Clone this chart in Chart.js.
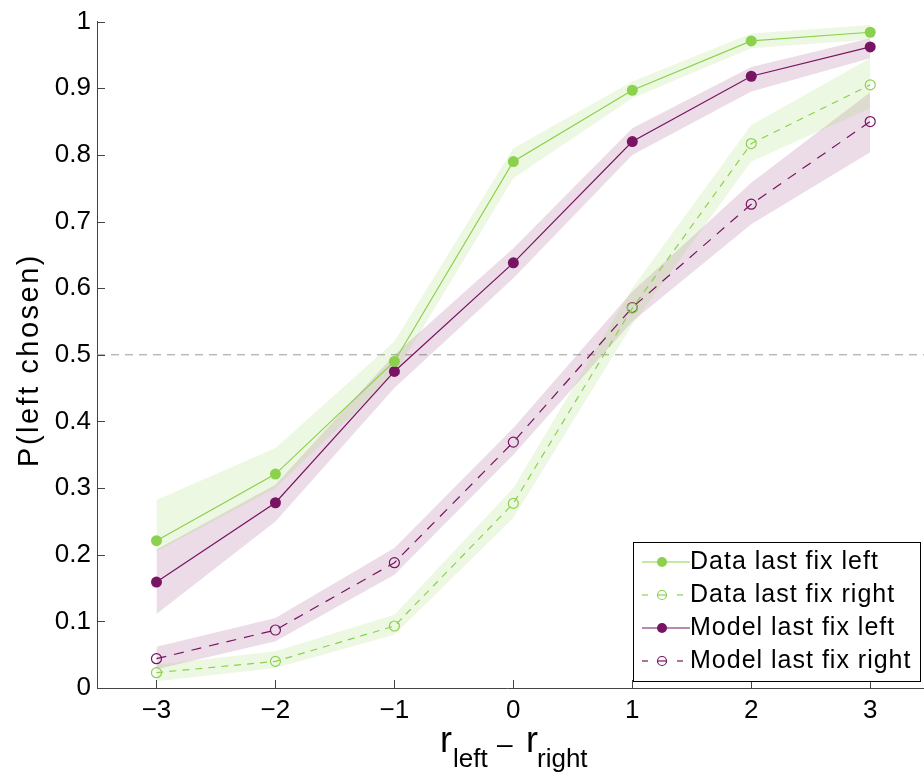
<!DOCTYPE html>
<html>
<head>
<meta charset="utf-8">
<script src="https://cdn.jsdelivr.net/npm/chart.js@4.4.1/dist/chart.umd.min.js"></script>
<style>
  html, body { margin: 0; padding: 0; background: #fff; }
  #wrap { width: 924px; height: 775px; }
</style>
</head>
<body>
<div id="wrap"><canvas id="mycanvas" width="924" height="775"></canvas></div>
<script>
// values
var xs = [-3, -2, -1, 0, 1, 2, 3];
var yTicks = [0, 0.1, 0.2, 0.3, 0.4, 0.5, 0.6, 0.7, 0.8, 0.9, 1];

var dataLeft   = [0.221, 0.321, 0.49, 0.790, 0.897, 0.971, 0.984];
var dataLeftLo = [0.205, 0.300, 0.47, 0.765, 0.885, 0.960, 0.973];
var dataLeftHi = [0.282, 0.360, 0.52, 0.810, 0.910, 0.982, 0.995];

var dataRight   = [0.023, 0.040, 0.093, 0.277, 0.570, 0.817, 0.905];
var dataRightLo = [0.010, 0.030, 0.080, 0.255, 0.545, 0.790, 0.870];
var dataRightHi = [0.035, 0.055, 0.110, 0.300, 0.600, 0.845, 0.945];

var modelLeft   = [0.159, 0.278, 0.475, 0.638, 0.820, 0.918, 0.962];
var modelLeftLo = [0.111, 0.250, 0.450, 0.615, 0.800, 0.895, 0.945];
var modelLeftHi = [0.208, 0.305, 0.500, 0.660, 0.840, 0.932, 0.975];

var modelRight   = [0.044, 0.087, 0.188, 0.369, 0.571, 0.726, 0.850];
var modelRightLo = [0.028, 0.070, 0.170, 0.350, 0.550, 0.696, 0.804];
var modelRightHi = [0.062, 0.105, 0.210, 0.390, 0.595, 0.758, 0.894];

var green = '#8cd14d';
var purple = '#781461';
var greenBand = 'rgba(140, 209, 77, 0.16)';
var purpleBand = 'rgba(120, 20, 97, 0.15)';
var FONT = '"Liberation Sans", Arial, Helvetica, sans-serif';

function pts(arr) {
	return xs.map(function(x, i) { return {x: x, y: arr[i]}; });
}

function band(hi, lo, color) {
	return [
		{ label: '', data: pts(hi), borderWidth: 0, pointRadius: 0, fill: '+1', backgroundColor: color, order: 10 },
		{ label: '', data: pts(lo), borderWidth: 0, pointRadius: 0, fill: false, order: 10 }
	];
}

function series(label, arr, color, dashed) {
	return {
		label: label,
		data: pts(arr),
		borderColor: color,
		borderWidth: 1.2,
		borderDash: dashed ? (color === green ? [7, 6] : [10, 8]) : [],
		pointRadius: dashed ? 5 : 5.5,
		pointBorderWidth: dashed ? 1.2 : 0,
		pointBorderColor: color,
		pointBackgroundColor: dashed ? 'rgba(0,0,0,0)' : color,
		fill: false,
		order: 1,
		isLine: true
	};
}

var datasets = []
	.concat(band(dataLeftHi, dataLeftLo, greenBand))
	.concat(band(dataRightHi, dataRightLo, greenBand))
	.concat(band(modelLeftHi, modelLeftLo, purpleBand))
	.concat(band(modelRightHi, modelRightLo, purpleBand))
	.concat([
		series('Data last fix left', dataLeft, green, false),
		series('Data last fix right', dataRight, green, true),
		series('Model last fix left', modelLeft, purple, false),
		series('Model last fix right', modelRight, purple, true)
	]);

// dashed 0.5 reference line, inward ticks, legend and axis titles
var extras = {
	id: 'extras',
	beforeDatasetsDraw: function(chart) {
		var ctx = chart.ctx, a = chart.chartArea, y = chart.scales.y.getPixelForValue(0.5);
		ctx.save();
		ctx.strokeStyle = '#999';
		ctx.lineWidth = 1;
		ctx.setLineDash([8, 6]);
		ctx.beginPath();
		ctx.moveTo(a.left, y);
		ctx.lineTo(chart.width, y);
		ctx.stroke();
		ctx.restore();
	},
	afterDraw: function(chart) {
		var ctx = chart.ctx, a = chart.chartArea;
		var sx = chart.scales.x, sy = chart.scales.y;
		ctx.save();
		ctx.strokeStyle = '#444';
		ctx.lineWidth = 1;
		// axis runs on to the right edge of the picture
		ctx.beginPath(); ctx.moveTo(a.right - 1, a.bottom + 0.5); ctx.lineTo(chart.width, a.bottom + 0.5); ctx.stroke();
		xs.forEach(function(v) {
			var px = Math.round(sx.getPixelForValue(v)) + 0.5;
			ctx.beginPath(); ctx.moveTo(px, a.bottom); ctx.lineTo(px, a.bottom - 8); ctx.stroke();
		});
		yTicks.forEach(function(v) {
			var py = Math.round(sy.getPixelForValue(v)) + 0.5;
			ctx.beginPath(); ctx.moveTo(a.left, py); ctx.lineTo(a.left + 8, py); ctx.stroke();
		});

		// legend
		var bx = 633, by = 542, bw = 287, bh = 139;
		ctx.fillStyle = '#fff';
		ctx.fillRect(bx, by, bw, bh);
		ctx.strokeStyle = '#000';
		ctx.lineWidth = 1;
		ctx.setLineDash([]);
		ctx.strokeRect(bx + 0.5, by + 0.5, bw, bh);
		var lines = chart.data.datasets.filter(function(d) { return d.isLine; });
		lines.forEach(function(d, i) {
			var cy = 562 + i * 33;
			ctx.strokeStyle = d.borderColor;
			ctx.lineWidth = 1.2;
			if (d.borderDash.length) {
				ctx.beginPath(); ctx.moveTo(642, cy); ctx.lineTo(648, cy); ctx.stroke();
				ctx.beginPath(); ctx.moveTo(677, cy); ctx.lineTo(683, cy); ctx.stroke();
				ctx.beginPath(); ctx.arc(662, cy, 4.5, 0, Math.PI * 2); ctx.stroke();
				ctx.beginPath(); ctx.moveTo(657.5, cy); ctx.lineTo(666.5, cy); ctx.stroke();
			} else {
				ctx.beginPath(); ctx.moveTo(642, cy); ctx.lineTo(690, cy); ctx.stroke();
				ctx.fillStyle = d.borderColor;
				ctx.beginPath(); ctx.arc(662, cy, 5, 0, Math.PI * 2); ctx.fill();
			}
			ctx.fillStyle = '#000';
			ctx.font = '25px ' + FONT;
			ctx.letterSpacing = '1px';
			ctx.textBaseline = 'middle';
			ctx.textAlign = 'left';
			ctx.fillText(d.label, 690, cy);
		});

		// y title
		ctx.save();
		ctx.translate(38, 360);
		ctx.rotate(-Math.PI / 2);
		ctx.font = '29px ' + FONT;
		ctx.letterSpacing = '2.5px';
		ctx.textAlign = 'center';
		ctx.textBaseline = 'alphabetic';
		ctx.fillStyle = '#000';
		ctx.fillText('P(left chosen)', 0, 0);
		ctx.restore();

		// x title with subscripts
		ctx.fillStyle = '#000';
		ctx.letterSpacing = '0px';
		ctx.textBaseline = 'alphabetic';
		ctx.textAlign = 'left';
		ctx.font = '36px ' + FONT;
		ctx.fillText('r', 440, 752);
		ctx.fillText('r', 526, 752);
		ctx.font = '28px ' + FONT;
		ctx.fillText('\u2013', 497, 753);
		ctx.font = '26px ' + FONT;
		ctx.fillText('left', 453, 767);
		ctx.fillText('right', 537, 767);
		ctx.restore();
	}
};

var ctx = document.getElementById('mycanvas');
var chart = new Chart(ctx, {
	type: 'line',
	data: { datasets: datasets },
	plugins: [extras],
	options: {
		responsive: false,
		animation: false,
		layout: { padding: { top: 21, right: 0, left: 0, bottom: 0 } },
		plugins: { legend: { display: false }, tooltip: { enabled: false } },
		elements: { line: { tension: 0 } },
		scales: {
			x: {
				type: 'linear',
				min: -3.5,
				max: 3.4,
				afterBuildTicks: function(s) { s.ticks = xs.map(function(v) { return {value: v}; }); },
				afterFit: function(s) { s.height = 87; },
				grid: { display: false, drawTicks: false },
				border: { display: true, color: '#444', width: 1 },
				ticks: {
					color: '#000',
					padding: 7,
					maxRotation: 0,
					font: { size: 26, family: FONT },
					callback: function(v) { return v < 0 ? '\u2212' + Math.abs(v) : String(v); }
				}
			},
			y: {
				min: 0,
				max: 1,
				afterBuildTicks: function(s) { s.ticks = yTicks.map(function(v) { return {value: v}; }); },
				afterFit: function(s) { s.width = 97; },
				grid: { display: false, drawTicks: false },
				border: { display: true, color: '#444', width: 1 },
				ticks: {
					color: '#000',
					padding: 6,
					font: { size: 26, family: FONT },
					callback: function(v) { return String(Math.round(v * 10) / 10); }
				}
			}
		}
	}
});
</script>
</body>
</html>
